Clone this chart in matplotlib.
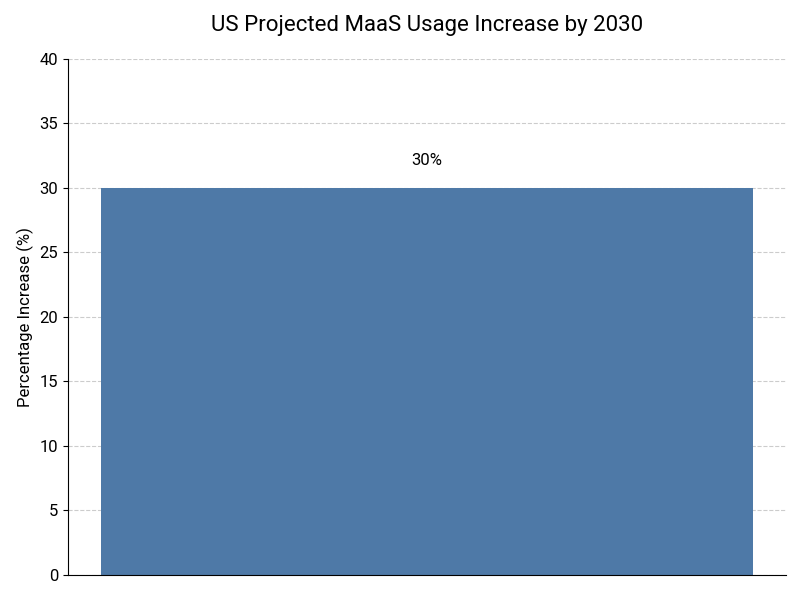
import matplotlib
matplotlib.use("Agg")
import matplotlib.pyplot as plt

# data
categories = ["US"]
values = [30]
value_labels = ["30%"]

plt.rcParams['font.family'] = ['Roboto', 'DejaVu Sans']

fig, ax = plt.subplots(figsize=(8, 6), dpi=100)

bars = ax.bar(categories, values, width=0.8, color='#4e79a7')

# value label above bar
for bar, lab in zip(bars, value_labels):
    ax.text(bar.get_x() + bar.get_width() / 2, bar.get_height() + 1.5, lab,
            ha='center', va='bottom', fontsize=12)

ax.set_ylim(0, 40)
ax.set_yticks(range(0, 41, 5))
ax.set_xticks([])
ax.set_ylabel('Percentage Increase (%)', fontsize=12)
ax.set_title('US Projected MaaS Usage Increase by 2030', fontsize=16, pad=20)
ax.tick_params(axis='y', labelsize=12)

ax.grid(True, axis='y', linestyle='--', color='#cccccc', linewidth=0.8)
ax.set_axisbelow(True)
ax.spines['top'].set_visible(False)
ax.spines['right'].set_visible(False)

fig.subplots_adjust(left=0.085, right=0.982, top=0.902, bottom=0.042)
fig.savefig('out.png', dpi=100)
